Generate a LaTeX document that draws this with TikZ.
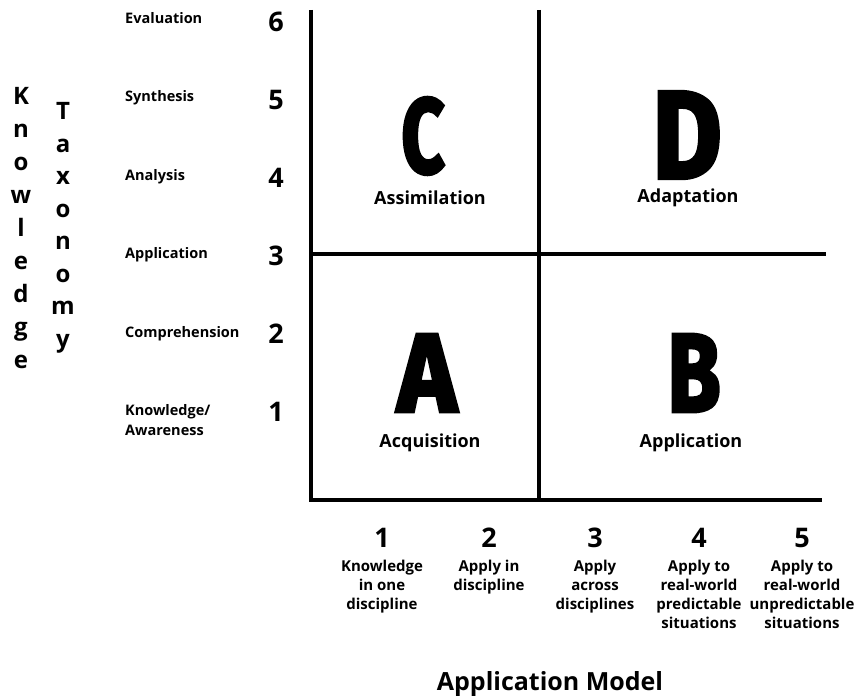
\documentclass[tikz,border=0pt]{standalone}
\usepackage{fontspec}
\usepackage{graphicx}
\setmainfont{Open Sans}
\newfontfamily\heavyfont[FakeBold=3.5]{Fira Sans}

\tikzset{
  axisline/.style={line width=4.5pt, line join=miter, line cap=butt},
  levelname/.style={inner sep=0pt, font=\bfseries\fontsize{14.5}{20}\selectfont, align=left},
  levelnum/.style={inner sep=0pt, font=\bfseries\fontsize{27}{27}\selectfont},
  vertletter/.style={inner sep=0pt, font=\bfseries\fontsize{24}{24}\selectfont},
  quadletter/.style={inner sep=0pt, font=\heavyfont\bfseries},
  quadname/.style={inner sep=0pt, font=\bfseries\fontsize{18}{18}\selectfont},
  colnum/.style={inner sep=0pt, font=\bfseries\fontsize{27}{27}\selectfont},
  coltext/.style={inner sep=0pt, font=\bfseries\fontsize{15}{19}\selectfont, align=center},
  axistitle/.style={inner sep=0pt, font=\bfseries\fontsize{25}{25}\selectfont}
}

\begin{document}
\begin{tikzpicture}[x=1pt, y=-1pt]
\useasboundingbox (0,0) rectangle (857,700);

% grid corners
\coordinate (tl) at (311,10);
\coordinate (bl) at (311,500);
\coordinate (br) at (822,500);
\coordinate (mt) at (539,10);
\coordinate (mb) at (539,500);
\coordinate (ml) at (311,254);
\coordinate (mr) at (826,254);

% axes and quadrant dividers
\draw[axisline] (tl) -- (bl) -- (br);
\draw[axisline] (mt) -- (mb);
\draw[axisline] (ml) -- (mr);

% vertical axis title, one letter per line
\foreach \ch [count=\i] in {K,n,o,w,l,e,d,g,e}
  \node[vertletter, anchor=base] (know\i) at (21,{105+33*(\i-1)}) {\ch};
\foreach \ch [count=\i] in {T,a,x,o,n,o,m,y}
  \node[vertletter, anchor=base] (taxo\i) at (63,{120+32.5*(\i-1)}) {\ch};

% taxonomy levels
\node[levelname, anchor=base west] (evaluation) at (125,24) {Evaluation};
\node[levelname, anchor=base west] (synthesis) at (125,102) {Synthesis};
\node[levelname, anchor=base west] (analysis) at (125,181) {Analysis};
\node[levelname, anchor=base west] (applic) at (125,259) {Application};
\node[levelname, anchor=base west] (compre) at (125,338) {Comprehension};
\node[levelname, anchor=north west] (knowaware) at (125,404) {Knowledge/\\Awareness};

\foreach \n/\b in {6/32,5/110,4/188,3/266,2/344,1/422}
  \node[levelnum, anchor=base] (lvl\n) at (276,\b) {\n};

% quadrant letters
\node[quadletter] (qC) at (423,136) {\resizebox{43pt}{75pt}{C}};
\node[quadletter] (qD) at (687,135) {\resizebox{69pt}{86pt}{D}};
\node[quadletter] (qA) at (427,373) {\resizebox{59pt}{77pt}{A}};
\node[quadletter] (qB) at (694,373) {\resizebox{53pt}{77pt}{B}};

% quadrant names
\node[quadname, anchor=base] (assim) at (430,205) {Assimilation};
\node[quadname, anchor=base] (adapt) at (688,203) {Adaptation};
\node[quadname, anchor=base] (acqui) at (430,447) {Acquisition};
\node[quadname, anchor=base] (appli) at (691,447) {Application};

% application model scale
\foreach \n/\x in {1/382,2/489,3/595,4/699,5/802}
  \node[colnum, anchor=base] (col\n) at (\x,547) {\n};
\node[coltext, anchor=north] (desc1) at (382,560) {Knowledge\\in one\\discipline};
\node[coltext, anchor=north] (desc2) at (489,560) {Apply in\\discipline};
\node[coltext, anchor=north] (desc3) at (595,560) {Apply\\across\\disciplines};
\node[coltext, anchor=north] (desc4) at (699,560) {Apply to\\real-world\\predictable\\situations};
\node[coltext, anchor=north] (desc5) at (802,560) {Apply to\\real-world\\unpredictable\\situations};

\node[axistitle, anchor=base] (model) at (550,690) {Application Model};
\end{tikzpicture}
\end{document}
